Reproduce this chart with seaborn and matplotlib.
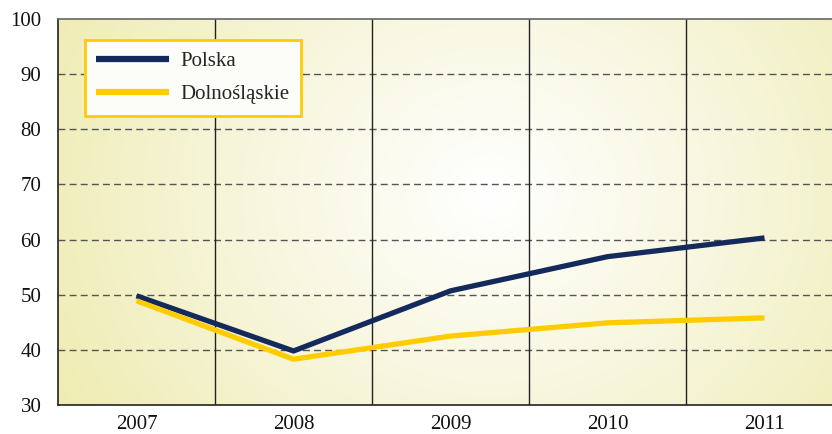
import numpy as np
import pandas as pd
import matplotlib.pyplot as plt
import seaborn as sns
from matplotlib.colors import LinearSegmentedColormap

years = ['2007', '2008', '2009', '2010', '2011']
polska = [49.8, 39.8, 50.7, 56.9, 60.3]
dolnoslaskie = [48.9, 38.3, 42.5, 44.9, 45.8]
series_names = ['Polska', 'Dolnośląskie']

df = pd.DataFrame({
    'rok': years * 2,
    'wartosc': polska + dolnoslaskie,
    'seria': [series_names[0]] * 5 + [series_names[1]] * 5,
})

sns.set_style('white')
plt.rcParams['font.family'] = ['Liberation Serif', 'DejaVu Serif']

fig = plt.figure(figsize=(8.32, 4.34), dpi=100)
ax = fig.add_axes([58 / 832, 29 / 434, 785 / 832, 386 / 434])

# radial background gradient
yy, xx = np.mgrid[0:1:200j, 0:1:400j]
r = np.sqrt(((xx - 0.55) * 1.6) ** 2 + ((yy - 0.55) * 0.9) ** 2)
r = np.clip(r / r.max(), 0, 1)
cmap = LinearSegmentedColormap.from_list('bg', ['#ffffff', '#f7f6dc', '#efecb2'])
ax.imshow(r, extent=[0, 1, 0, 1], transform=ax.transAxes, cmap=cmap,
          aspect='auto', zorder=0, origin='lower')

sns.lineplot(data=df, x='rok', y='wartosc', hue='seria', ax=ax,
             palette=['#142a5c', '#ffcc00'], linewidth=3.8, zorder=3,
             sort=False, solid_capstyle='butt')

ax.set_xlim(-0.5, 4.5)
ax.set_ylim(30, 100)
ax.set_yticks(range(30, 101, 10))
for v in range(40, 100, 10):
    ax.axhline(v, color='#555555', lw=1, ls=(0, (5, 3)), zorder=1)
for b in np.arange(0.5, 4.5, 1):
    ax.axvline(b, color='#222222', lw=1, zorder=1)

ax.set_xlabel('')
ax.set_ylabel('')
ax.tick_params(axis='y', labelsize=15, length=0, pad=12, colors='#111111')
ax.tick_params(axis='x', labelsize=15, length=0, pad=7, colors='#111111')
for s in ['left', 'bottom']:
    ax.spines[s].set_color('#222222')
    ax.spines[s].set_linewidth(1.2)
ax.spines['top'].set_color('#666666')
ax.spines['top'].set_linewidth(1.2)
ax.spines['right'].set_visible(False)

leg = ax.legend(loc='upper left', bbox_to_anchor=(0.034, 0.945), fontsize=15,
                frameon=True, fancybox=False, handlelength=3.5,
                borderpad=0.55, labelspacing=0.65, handletextpad=0.55,
                borderaxespad=0)
leg.get_frame().set_edgecolor('#ffcc00')
leg.get_frame().set_linewidth(2)
leg.get_frame().set_facecolor('#fcfcf8')
leg.get_frame().set_alpha(1)
for line in leg.get_lines():
    line.set_linewidth(4.5)
    line.set_solid_capstyle('butt')

fig.savefig('out.png', dpi=100)
